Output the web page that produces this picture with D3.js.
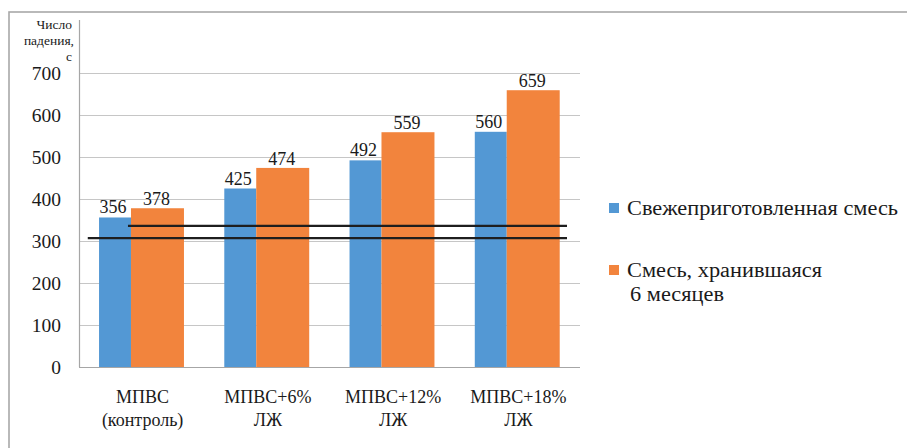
<!DOCTYPE html>
<html>
<head>
<meta charset="utf-8">
<script src="https://cdn.jsdelivr.net/npm/d3@7/dist/d3.min.js"></script>
</head>
<body style="margin:0;background:#fff">
<svg id="fig" width="907" height="448" style="display:block"></svg>
<script>
// Falling number test results
const categories = [["МПВС", "(контроль)"], ["МПВС+6%", "ЛЖ"], ["МПВС+12%", "ЛЖ"], ["МПВС+18%", "ЛЖ"]];
const freshValues = [356, 425, 492, 560];
const storedValues = [378, 474, 559, 659];
const seriesNames = ["Свежеприготовленная смесь", ["Смесь, хранившаяся", "6 месяцев"]];
const yTicks = [0, 100, 200, 300, 400, 500, 600, 700];
const axisTitle = ["Число", "падения,", "с"];
// Two horizontal reference levels drawn across the plot
const referenceLevels = [336, 307];

const colors = { fresh: "#5398d4", stored: "#f2843d" };
const ink = "#1a1a1a";

const svg = d3.select("#fig");

// Helper: serif text, optionally stretched horizontally
function styleText(sel, size, stretch) {
  sel.style("font-family", '"Liberation Serif"', "important")
    .attr("font-size", size)
    .attr("fill", ink)
    .each(function () {
      const w = this.getComputedTextLength();
      if (stretch !== 1) {
        d3.select(this).attr("textLength", w * stretch).attr("lengthAdjust", "spacingAndGlyphs");
      }
    });
}

// Outer frame
svg.append("rect")
  .attr("x", 9).attr("y", 12)
  .attr("width", 1000).attr("height", 1000)
  .attr("fill", "none").attr("stroke", "#a8a8a8").attr("stroke-width", 1.6);

const plot = { left: 79, right: 580, top: 20, bottom: 367 };

const x = d3.scaleBand()
  .domain(d3.range(categories.length))
  .range([plot.left, plot.right])
  .paddingInner(0).paddingOuter(0);

const y = d3.scaleLinear().domain([0, 700]).range([plot.bottom, 73]);

// Horizontal gridlines
svg.append("g")
  .selectAll("line")
  .data(yTicks.filter(d => d > 0))
  .join("line")
  .attr("x1", plot.left).attr("x2", plot.right)
  .attr("y1", d => y(d) + 0.5).attr("y2", d => y(d) + 0.5)
  .attr("stroke", "#c6c6c6").attr("stroke-width", 1);

// Y tick labels
svg.append("g")
  .selectAll("text")
  .data(yTicks)
  .join("text")
  .attr("x", 61)
  .attr("y", d => y(d))
  .attr("dy", "0.34em")
  .attr("text-anchor", "end")
  .text(d => d)
  .call(styleText, 19.5, 1);

// Axis title, stacked right-aligned
svg.append("g")
  .selectAll("text")
  .data(axisTitle)
  .join("text")
  .attr("x", (d, i) => i === 1 ? 74 : 72)
  .attr("y", (d, i) => 29 + i * 16)
  .attr("text-anchor", "end")
  .text(d => d)
  .call(styleText, 13.5, 1);

// Bars: blue partially covered by orange
const bw = x.bandwidth();
const groupStart = i => x(i) + bw * 0.16;
const freshW = bw * 0.255;
const storedW = bw * 0.423;

const bars = svg.append("g");
bars.selectAll("rect.fresh")
  .data(freshValues)
  .join("rect")
  .attr("class", "fresh")
  .attr("x", (d, i) => groupStart(i))
  .attr("y", d => y(d))
  .attr("width", freshW)
  .attr("height", d => y(0) - y(d))
  .attr("fill", colors.fresh);

bars.selectAll("rect.stored")
  .data(storedValues)
  .join("rect")
  .attr("class", "stored")
  .attr("x", (d, i) => groupStart(i) + freshW)
  .attr("y", d => y(d))
  .attr("width", storedW)
  .attr("height", d => y(0) - y(d))
  .attr("fill", colors.stored);

// Value labels
const labels = svg.append("g").attr("text-anchor", "middle");
labels.selectAll("text.fresh")
  .data(freshValues)
  .join("text")
  .attr("class", "fresh")
  .attr("x", (d, i) => groupStart(i) + freshW / 2 - 2)
  .attr("y", d => y(d) - 4)
  .text(d => d)
  .call(styleText, 18, 1);
labels.selectAll("text.stored")
  .data(storedValues)
  .join("text")
  .attr("class", "stored")
  .attr("x", (d, i) => groupStart(i) + freshW + storedW / 2 - 1)
  .attr("y", d => y(d) - 3)
  .text(d => d)
  .call(styleText, 18, 1);

// Axes lines
svg.append("line")
  .attr("x1", plot.left + 0.5).attr("x2", plot.left + 0.5)
  .attr("y1", plot.top).attr("y2", plot.bottom)
  .attr("stroke", "#a6a6a6").attr("stroke-width", 1.2);
svg.append("line")
  .attr("x1", plot.left).attr("x2", plot.right)
  .attr("y1", plot.bottom + 0.5).attr("y2", plot.bottom + 0.5)
  .attr("stroke", "#a6a6a6").attr("stroke-width", 1.2);

// Category labels
const cat = svg.append("g").attr("text-anchor", "middle");
categories.forEach((lines, i) => {
  lines.forEach((t, j) => {
    cat.append("text")
      .attr("x", x(i) + bw / 2 + 1)
      .attr("y", 403 + j * 23)
      .text(t)
      .call(styleText, 18, 1);
  });
});

// Reference lines
const refStarts = [groupStart(0) + freshW - 3, x(0) + bw * 0.07];
svg.append("g")
  .selectAll("line")
  .data(referenceLevels)
  .join("line")
  .attr("x1", (d, i) => refStarts[i])
  .attr("x2", plot.right - 13)
  .attr("y1", d => y(d)).attr("y2", d => y(d))
  .attr("stroke", "#1e1e1e").attr("stroke-width", 2.2);

// Legend
const legend = svg.append("g");
const legendRows = [
  { color: colors.fresh, lines: [seriesNames[0]], top: 215 },
  { color: colors.stored, lines: seriesNames[1], top: 277 }
];
const legendTexts = [];
legendRows.forEach(r => {
  legend.append("rect")
    .attr("x", 609).attr("y", r.top - 12)
    .attr("width", 10).attr("height", 10)
    .attr("fill", r.color);
  r.lines.forEach((t, j) => {
    legendTexts.push(legend.append("text")
      .attr("x", 627 + (j > 0 ? 3 : 0))
      .attr("y", r.top + j * 24)
      .text(t)
      .call(styleText, 20, 1));
  });
});
// Stretch legend text so the first entry spans to the right margin
const legendStretch = (898 - 627) / legendTexts[0].node().getComputedTextLength();
legendTexts.forEach(t => {
  t.attr("textLength", t.node().getComputedTextLength() * legendStretch)
   .attr("lengthAdjust", "spacingAndGlyphs");
});
</script>
</body>
</html>
